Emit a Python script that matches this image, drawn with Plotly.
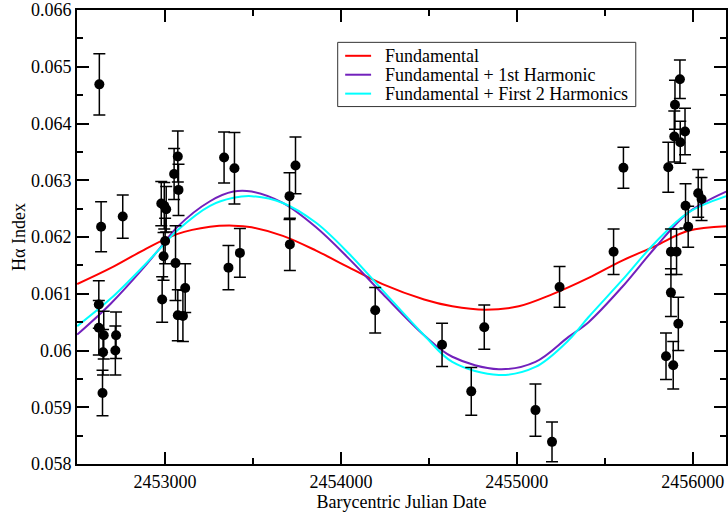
import plotly.graph_objects as go

# H-alpha index measurements (BJD, index, 1-sigma error)
bjd = [
    2452627, 2452637, 2452760, 2452624, 2452652, 2452648, 2452645, 2452624,
    2452722, 2452718, 2452979, 2452996, 2453007, 2453001, 2452992, 2452984,
    2453060, 2453115, 2453073, 2453102, 2453077, 2453052, 2453073, 2453361,
    2453426, 2453336, 2453395, 2453742, 2453708, 2453710, 2454195, 2454575,
    2454815, 2454741, 2455106, 2455200, 2455243, 2455550, 2455606, 2455959,
    2455974, 2456031, 2456050, 2455876, 2455908, 2455876, 2455918, 2455848,
    2455889, 2455927, 2455899, 2455895, 2455929, 2455956, 2455861,
]
halpha = [
    0.06469, 0.06218, 0.06236, 0.06081, 0.06027, 0.05997, 0.05925, 0.06040,
    0.06027, 0.06000, 0.06259, 0.06255, 0.06249, 0.06193, 0.06166, 0.06090,
    0.06154, 0.06110, 0.06062, 0.06061, 0.06283, 0.06311, 0.06342, 0.06146,
    0.06172, 0.06340, 0.06321, 0.06326, 0.06272, 0.06187, 0.06071, 0.06010,
    0.06041, 0.05928, 0.05895, 0.05839, 0.06112, 0.06174, 0.06322, 0.06255,
    0.06218, 0.06277, 0.06267, 0.06174, 0.06174, 0.06102, 0.06047, 0.05990,
    0.05974, 0.06478, 0.06433, 0.06377, 0.06367, 0.06386, 0.06323,
]
halpha_err = [
    0.00054, 0.00044, 0.00038, 0.00042, 0.00042, 0.00040, 0.00040, 0.00048,
    0.00041, 0.00043, 0.00039, 0.00041, 0.00040, 0.00040, 0.00042, 0.00040,
    0.00066, 0.00043, 0.00045, 0.00045, 0.00045, 0.00045, 0.00045, 0.00039,
    0.00043, 0.00045, 0.00063, 0.00050, 0.00041, 0.00046, 0.00040, 0.00038,
    0.00039, 0.00042, 0.00046, 0.00035, 0.00036, 0.00040, 0.00036, 0.00039,
    0.00036, 0.00042, 0.00038, 0.00040, 0.00040, 0.00042, 0.00047, 0.00041,
    0.00042, 0.00034, 0.00043, 0.00045, 0.00037, 0.00041, 0.00044,
]

# Periodic fits sampled along the time axis
fund_dates = [
    2452501, 2452690, 2452879, 2453068, 2453256, 2453389, 2453493, 2453670,
    2453859, 2454048, 2454237, 2454473, 2454633, 2454822, 2455011, 2455200,
    2455408, 2455596, 2455786, 2455974, 2456190,
]
fund = [
    0.06117, 0.06145, 0.06177, 0.06205, 0.06218, 0.06220, 0.06217, 0.06202,
    0.06176, 0.06146, 0.06117, 0.06090, 0.06078, 0.06072, 0.06078, 0.06099,
    0.06128, 0.06158, 0.06184, 0.06211, 0.06219,
]
harm_dates = [
    2452501, 2452690, 2452879, 2452973, 2453068, 2453256, 2453389, 2453493,
    2453670, 2453859, 2454048, 2454237, 2454473, 2454633, 2454898, 2455106,
    2455294, 2455408, 2455596, 2455786, 2455974, 2456190,
]
fund_h1 = [
    0.06028, 0.06082, 0.06146, 0.06181, 0.06217, 0.06263, 0.06280, 0.06280,
    0.06260, 0.06217, 0.06161, 0.06100, 0.06027, 0.05989, 0.05967, 0.05980,
    0.06024, 0.06050, 0.06111, 0.06181, 0.06243, 0.06280,
]
fund_h12 = [
    0.06043, 0.06091, 0.06149, 0.06180, 0.06211, 0.06255, 0.06269, 0.06272,
    0.06260, 0.06225, 0.06170, 0.06106, 0.06027, 0.05980, 0.05957, 0.05971,
    0.06018, 0.06059, 0.06123, 0.06190, 0.06243, 0.06272,
]

fit_names = ["Fundamental", "Fundamental + 1st Harmonic",
             "Fundamental + First 2 Harmonics"]
fit_colors = ["#ff0000", "rgb(114,33,188)", "#00ffff"]

x_tick_vals = [2453000, 2454000, 2455000, 2456000]
x_tick_text = ["2453000", "2454000", "2455000", "2456000"]
y_tick_vals = [0.058, 0.059, 0.060, 0.061, 0.062, 0.063, 0.064, 0.065, 0.066]
y_tick_text = ["0.058", "0.059", "0.06", "0.061", "0.062", "0.063",
               "0.064", "0.065", "0.066"]

W, H = 728, 514
ML, MR, MT, MB = 77, 0, 8, 50
FONT = "Liberation Serif"

fig = go.Figure()

for dates, vals, name, col in zip(
        [fund_dates, harm_dates, harm_dates],
        [fund, fund_h1, fund_h12], fit_names, fit_colors):
    fig.add_trace(go.Scatter(
        x=dates, y=vals, mode="lines", name=name,
        line=dict(color=col, width=2, shape="spline", smoothing=1.0),
        showlegend=False, hoverinfo="skip"))

fig.add_trace(go.Scatter(
    x=bjd, y=halpha, mode="markers", name="H-alpha",
    marker=dict(color="black", size=10),
    error_y=dict(type="data", array=halpha_err, color="black",
                 thickness=1.5, width=6),
    showlegend=False))

axis_common = dict(
    showline=True, linewidth=2, linecolor="black", mirror="ticks",
    ticks="inside", ticklen=12, tickwidth=1.5, tickcolor="black",
    showgrid=False, zeroline=False, ticklabeloverflow="allow",
    tickfont=dict(family=FONT, size=18, color="black"),
)

fig.update_xaxes(
    range=[2452500, 2456189], tickmode="array",
    tickvals=x_tick_vals, ticktext=x_tick_text,
    minor=dict(tickmode="linear", tick0=2452500, dtick=500, ticks="inside",
               ticklen=6, tickwidth=1.5, tickcolor="black"),
    title=dict(text="Barycentric Julian Date", standoff=0,
               font=dict(family=FONT, size=18, color="black")),
    **axis_common)
fig.update_yaxes(
    range=[0.058, 0.06600001], tickmode="array",
    tickvals=y_tick_vals, ticktext=y_tick_text,
    minor=dict(tickmode="linear", tick0=0.058, dtick=0.0005, ticks="inside",
               ticklen=6, tickwidth=1.5, tickcolor="black"),
    title=dict(text="H\u03b1 Index", standoff=1,
               font=dict(family=FONT, size=18, color="black")),
    **axis_common)

# Legend box drawn in paper coordinates
pw, ph = W - ML - MR, H - MT - MB


def px(x):
    return (x - ML) / pw


def py(y):
    return (H - MB - y) / ph


shapes = [dict(type="rect", xref="paper", yref="paper",
               x0=px(338.5), x1=px(637.5), y0=py(105), y1=py(40.5),
               line=dict(color="#333333", width=1), fillcolor="white",
               layer="above")]
annotations = []
for row_y, name, col in zip([54, 73, 92], fit_names, fit_colors):
    shapes.append(dict(type="line", xref="paper", yref="paper",
                       x0=px(346), x1=px(372), y0=py(row_y), y1=py(row_y),
                       line=dict(color=col, width=2), layer="above"))
    annotations.append(dict(xref="paper", yref="paper", x=px(384), y=py(row_y),
                            xanchor="left", yanchor="middle", text=name,
                            showarrow=False,
                            font=dict(family=FONT, size=18, color="black")))

fig.update_layout(
    width=W, height=H,
    margin=dict(l=ML, r=MR, t=MT, b=MB),
    paper_bgcolor="white", plot_bgcolor="white",
    shapes=shapes, annotations=annotations,
    showlegend=False,
)

fig.write_html("out.html")
